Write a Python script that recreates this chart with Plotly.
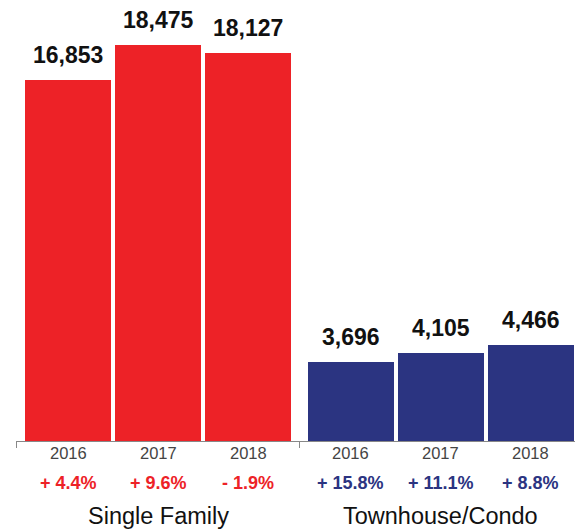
import plotly.graph_objects as go

groups = ["Single Family", "Townhouse/Condo"]
years = ["2016", "2017", "2018"]
single_family = [16853, 18475, 18127]
townhouse_condo = [3696, 4105, 4466]
sf_change = ["+ 4.4%", "+ 9.6%", "- 1.9%"]
tc_change = ["+ 15.8%", "+ 11.1%", "+ 8.8%"]

RED = "#ED2227"
NAVY = "#2B3481"
FONT = "Liberation Sans, Arial, Helvetica, sans-serif"

group_offset = 3.144   # slot units between the first bars of each group
bar_width = 0.956
x_lo, x_hi = -0.578, 5.633
y_max = 20590

series = [(single_family, sf_change, RED), (townhouse_condo, tc_change, NAVY)]

fig = go.Figure()
annotations = []
for g, (vals, changes, color) in enumerate(series):
    xs = [g * group_offset + i for i in range(len(years))]
    fig.add_trace(go.Bar(x=xs, y=vals, width=bar_width, marker=dict(color=color, line=dict(width=0)),
                         showlegend=False, hoverinfo="skip"))
    for x, v, yr, ch in zip(xs, vals, years, changes):
        annotations.append(dict(x=x, y=v, xref="x", yref="y", text=f"{v:,}", showarrow=False,
                                yanchor="middle", yshift=25,
                                font=dict(family=FONT, size=23, color="#111111", weight="bold")))
        annotations.append(dict(x=x, y=0, xref="x", yref="paper", text=yr, showarrow=False,
                                yanchor="middle", yshift=-12,
                                font=dict(family=FONT, size=16.5, color="#444444")))
        annotations.append(dict(x=x, y=0, xref="x", yref="paper", text=ch, showarrow=False,
                                yanchor="middle", yshift=-42,
                                font=dict(family=FONT, size=18, color=color, weight="bold")))
    annotations.append(dict(x=xs[1], y=0, xref="x", yref="paper", text=groups[g], showarrow=False,
                            yanchor="middle", yshift=-75,
                            font=dict(family=FONT, size=23.5, color="#111111")))

mid = (2 + group_offset) / 2
fig.update_layout(
    width=575, height=532,
    margin=dict(l=16, r=0, t=0, b=91),
    paper_bgcolor="white", plot_bgcolor="white",
    bargap=0,
    annotations=annotations,
    xaxis=dict(range=[x_lo, x_hi], showgrid=False, zeroline=False, showline=True,
               linecolor="#888888", linewidth=1, showticklabels=False,
               tickmode="array", tickvals=[x_lo, mid, x_hi], ticks="outside",
               ticklen=6, tickcolor="#888888", tickwidth=1),
    yaxis=dict(range=[0, y_max], visible=False, showgrid=False, zeroline=False),
)

fig.write_html("out.html")
